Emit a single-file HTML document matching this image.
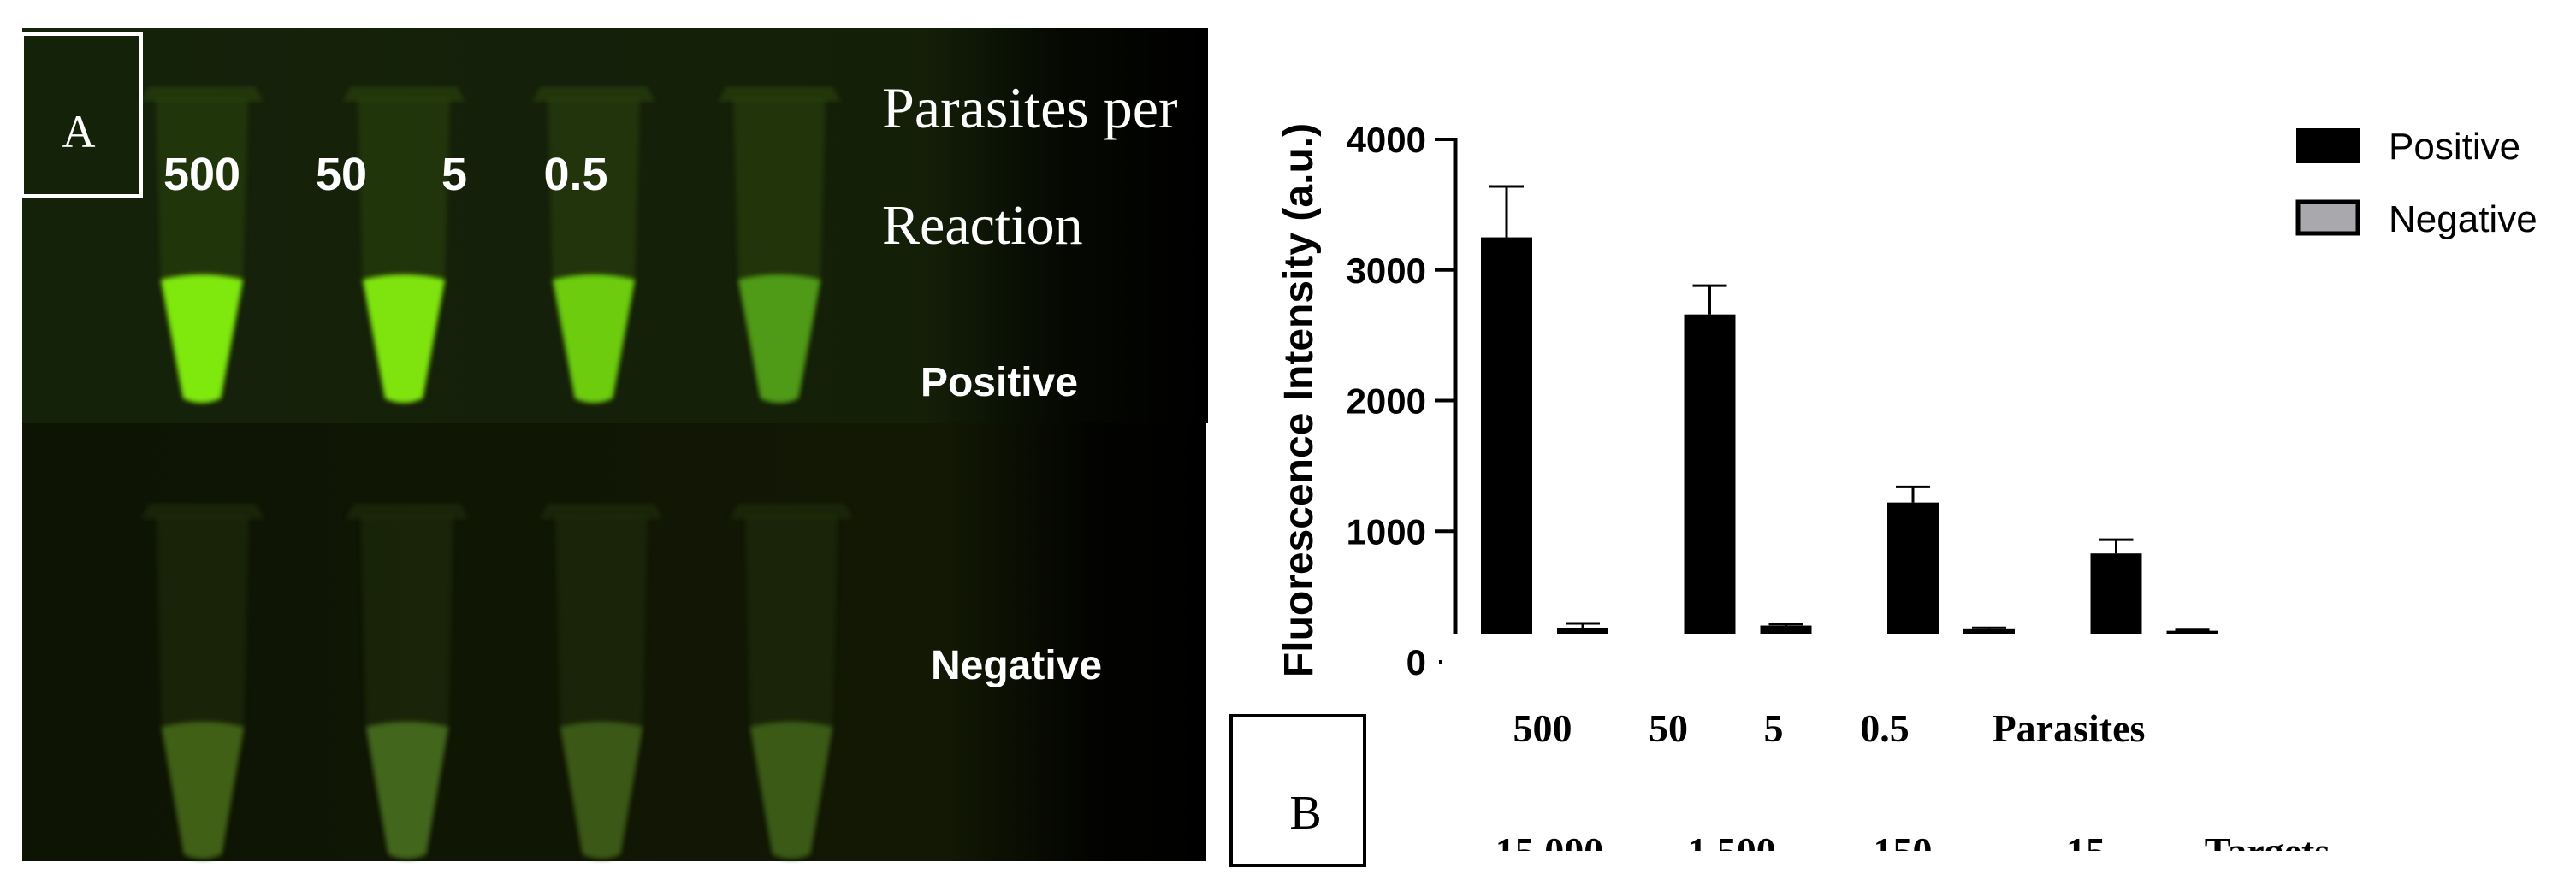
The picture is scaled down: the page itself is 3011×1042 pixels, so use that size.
<!DOCTYPE html>
<html><head><meta charset="utf-8"><style>
html,body{margin:0;padding:0;background:#fff;}
svg{display:block;}
.sans{font-family:"Liberation Sans",sans-serif;font-weight:bold;}
.serif{font-family:"Liberation Serif",serif;}
</style></head><body>
<svg id="fig" width="3011" height="1042" viewBox="0 0 3011 1042" xmlns="http://www.w3.org/2000/svg">
<defs>
<linearGradient id="bgTop" x1="0" x2="1" y1="0" y2="0">
<stop offset="0" stop-color="#15220a"/><stop offset="0.76" stop-color="#141f08"/><stop offset="0.88" stop-color="#050802"/><stop offset="1" stop-color="#000"/>
</linearGradient>
<linearGradient id="bgBot" x1="0" x2="1" y1="0" y2="0">
<stop offset="0" stop-color="#0e1404"/><stop offset="0.78" stop-color="#121804"/><stop offset="0.9" stop-color="#030401"/><stop offset="1" stop-color="#000"/>
</linearGradient>
<filter id="blur"><feGaussianBlur stdDeviation="3"/></filter>
</defs>

<g>
<rect x="26" y="33" width="1386" height="462" fill="url(#bgTop)"/>
<rect x="26" y="495" width="1384" height="512" fill="url(#bgBot)"/>
<g id="tubes"></g>
<rect x="26" y="40" width="139" height="189" fill="none" stroke="#fff" stroke-width="4"/>
<text x="92" y="172" class="serif" font-size="54" fill="#fff" text-anchor="middle">A</text>
<text x="236" y="222" class="sans" font-size="54" fill="#fff" text-anchor="middle">500</text>
<text x="399" y="222" class="sans" font-size="54" fill="#fff" text-anchor="middle">50</text>
<text x="531" y="222" class="sans" font-size="54" fill="#fff" text-anchor="middle">5</text>
<text x="673" y="222" class="sans" font-size="54" fill="#fff" text-anchor="middle">0.5</text>
<text x="1031" y="149" class="serif" font-size="68" fill="#fff">Parasites per</text>
<text x="1031" y="285" class="serif" font-size="66" fill="#fff">Reaction</text>
<text x="1168" y="463" class="sans" font-size="48" fill="#fff" text-anchor="middle">Positive</text>
<text x="1188" y="794" class="sans" font-size="48" fill="#fff" text-anchor="middle">Negative</text>
</g>

<g>
<g id="bars"></g>
<line x1="1701" y1="161" x2="1701" y2="741" stroke="#000" stroke-width="5"/>
<g id="yticks"></g>
<text transform="translate(1534,468) rotate(-90)" class="sans" font-size="48" text-anchor="middle" fill="#000">Fluorescence Intensity (a.u.)</text>
<rect x="2686" y="152" width="70" height="37" fill="#000" stroke="#000" stroke-width="4"/>
<text x="2792" y="186" font-family="Liberation Sans, sans-serif" font-size="44" fill="#000">Positive</text>
<rect x="2686" y="236" width="70" height="37" fill="#a8a8ad" stroke="#000" stroke-width="5"/>
<text x="2792" y="271" font-family="Liberation Sans, sans-serif" font-size="44" fill="#000">Negative</text>
<rect x="1439" y="837" width="156" height="175" fill="none" stroke="#000" stroke-width="4"/>
<text x="1526" y="969" class="serif" font-size="56" text-anchor="middle" fill="#000">B</text>
<g id="xlabels" class="serif" font-weight="bold" font-size="46"></g>
</g>
</svg>
<script>
const categories = ["500", "50", "5", "0.5"];
const targets = ["15,000", "1,500", "150", "15"];
const positive = [3250, 2660, 1220, 830];
const positiveErr = [390, 220, 120, 105];
const negative = [262, 278, 250, 238];
const negativeErr = [33, 12, 10, 6];
const yTicks = [0, 1000, 2000, 3000, 4000];

const NS = "http://www.w3.org/2000/svg";
function mk(tag, attrs, parent){const e=document.createElementNS(NS,tag);for(const k in attrs)e.setAttribute(k,attrs[k]);parent.appendChild(e);return e;}
const yScale = v => 774 - v * 0.15275;
const baseY = 741;
const groupX = i => 1731 + i * 237.5;
const barW = 60;

const bars = document.getElementById('bars');
categories.forEach((c,i)=>{
  const px = groupX(i), nx = groupX(i) + 89;
  [[px, positive[i], positiveErr[i], 'positive'], [nx, negative[i], negativeErr[i], 'negative']].forEach(([x,v,err,s])=>{
    const top = Math.min(yScale(v), baseY);
    const eTop = yScale(v + err);
    const l = mk('line',{x1:x+barW/2,y1:top,x2:x+barW/2,y2:eTop,stroke:'#000','stroke-width':3},bars);
    
    
    const cap = mk('line',{x1:x+barW/2-20,y1:eTop,x2:x+barW/2+20,y2:eTop,stroke:'#000','stroke-width':3},bars);
    
    
    const r = mk('rect',{x:x,y:top,width:barW,height:baseY-top,fill:'#000'},bars);
    
    
  });
});

const yt = document.getElementById('yticks');
yTicks.forEach(t=>{
  const y = yScale(t);
  if (t === 0) {
    const d = mk('rect',{x:1682,y:y-2,width:4,height:4,fill:'#000'},yt);
    
    
  } else {
    const tk = mk('line',{x1:1677,y1:y,x2:1701,y2:y,stroke:'#000','stroke-width':4},yt);
    
    
  }
  const tx = mk('text',{x:1667,y:y+15,'text-anchor':'end','font-size':42,'class':'sans',fill:'#000'},yt);
  tx.textContent = t;
  
  
});

const xl = document.getElementById('xlabels');
const catX = [1803, 1950, 2073, 2203];
categories.forEach((c,i)=>{
  const t = mk('text',{x:catX[i],y:867,'text-anchor':'middle',fill:'#000'},xl);
  t.textContent = c;
  
  
});
const pt = mk('text',{x:2418,y:867,'text-anchor':'middle',fill:'#000'},xl);
pt.textContent = 'Parasites';


const tgX = [1811, 2024, 2224, 2438];
targets.forEach((c,i)=>{
  const t = mk('text',{x:tgX[i],y:1011,'text-anchor':'middle',fill:'#000'},xl);
  t.textContent = c;
  
  
});
const tt = mk('text',{x:2650,y:1011,'text-anchor':'middle',fill:'#000'},xl);
tt.textContent = 'Targets';


const cover = mk('rect',{x:1600,y:995,width:1411,height:47,fill:'#fff'},document.getElementById('fig'));



const tg = document.getElementById('tubes');
const topTubes = [[236,'#7fe80c'],[472,'#7fe40c'],[694,'#6ccc10'],[911,'#4f9a14']];
const botTubes = [[237,'#3f6012'],[476,'#43661a'],[703,'#3a5814'],[925,'#3a5a14']];
function tube(cx, capY, liqY, tipY, liq, glass, name){
  const g = mk('g',{},tg);
  
  
  mk('path',{d:`M${cx-62} ${capY-14} L${cx+62} ${capY-14} L${cx+72} ${capY+4} L${cx-72} ${capY+4} Z`,fill:glass,opacity:0.55,filter:'url(#blur)'},g);
  mk('path',{d:`M${cx-54} ${capY} L${cx+54} ${capY} L${cx+48} ${liqY} L${cx+22} ${tipY-6} Q${cx} ${tipY+4} ${cx-22} ${tipY-6} L${cx-48} ${liqY} Z`,fill:glass,opacity:0.5,filter:'url(#blur)'},g);
  mk('path',{d:`M${cx-48} ${liqY} Q${cx} ${liqY-12} ${cx+48} ${liqY} L${cx+22} ${tipY-6} Q${cx} ${tipY+4} ${cx-22} ${tipY-6} Z`,fill:liq,filter:'url(#blur)'},g);
}
topTubes.forEach((t,i)=>tube(t[0],115,327,472,t[1],'#2e4a10','tube-positive-'+i));
botTubes.forEach((t,i)=>tube(t[0],603,850,1005,t[1],'#24300c','tube-negative-'+i));
</script>
</body></html>
